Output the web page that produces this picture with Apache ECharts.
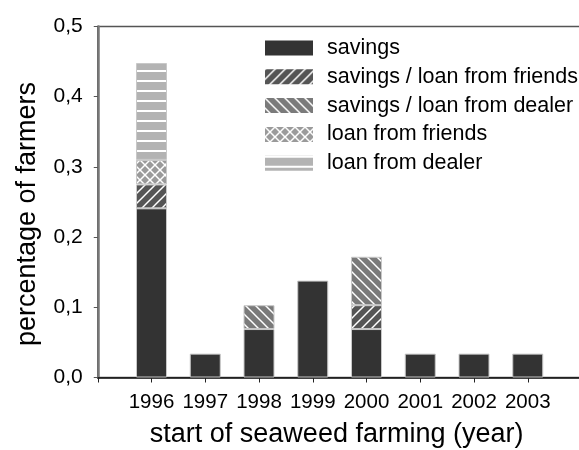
<!DOCTYPE html>
<html>
<head>
<meta charset="utf-8">
<script src="https://cdn.jsdelivr.net/npm/echarts@6/dist/echarts.min.js"></script>
<style>html,body{margin:0;padding:0;background:#fff}#c{width:579px;height:450px}</style>
</head>
<body>
<div id="c"></div>
<script>
var years = ['1996', '1997', '1998', '1999', '2000', '2001', '2002', '2003'];
var savings = [0.241, 0.034, 0.069, 0.138, 0.069, 0.034, 0.034, 0.034];
var savingsFriends = [0.034, null, null, null, 0.034, null, null, null];
var savingsDealer = [null, null, 0.034, null, 0.069, null, null, null];
var loanFriends = [0.035, null, null, null, null, null, null, null];
var loanDealer = [0.138, null, null, null, null, null, null, null];
var yTicks = ['0,0', '0,1', '0,2', '0,3', '0,4', '0,5'];

// axis categories: one empty slot before and after the years (axis padding)
var xCats = [' '].concat(years).concat(['  ']);

function makePattern(bg, kind) {
  var s = 10;
  var c = document.createElement('canvas');
  c.width = s; c.height = s;
  var g = c.getContext('2d');
  g.fillStyle = bg; g.fillRect(0, 0, s, s);
  g.strokeStyle = '#ffffff';
  g.lineWidth = 1.5;
  function seg(x1, y1, x2, y2) { g.beginPath(); g.moveTo(x1, y1); g.lineTo(x2, y2); g.stroke(); }
  if (kind === 'fwd' || kind === 'cross') {
    seg(-2, s + 2, s + 2, -2); seg(-2, 2, 2, -2); seg(s - 2, s + 2, s + 2, s - 2);
  }
  if (kind === 'back' || kind === 'cross') {
    seg(-2, -2, s + 2, s + 2); seg(s - 2, -2, s + 2, 2); seg(-2, s - 2, 2, s + 2);
  }
  if (kind === 'horiz') {
    g.lineWidth = 2;
    seg(0, 1, s, 1);
  }
  return { image: c, repeat: 'repeat' };
}

function toData(arr) {
  return ['-'].concat(arr.map(function (v) { return v === null ? '-' : v; })).concat(['-']);
}

function mk(name, arr, color) {
  return {
    name: name, type: 'bar', stack: 'total', barWidth: 31,
    data: toData(arr),
    itemStyle: { color: color, borderColor: '#c8c8c8', borderWidth: 1 },
    emphasis: { disabled: true }
  };
}

var chart = echarts.init(document.getElementById('c'), null, { renderer: 'canvas' });
chart.setOption({
  animation: false,
  backgroundColor: '#ffffff',
  textStyle: { fontFamily: 'Liberation Sans, Arial, sans-serif' },
  grid: { left: 97.75, top: 26.5, right: -2.5, bottom: 72.5, show: true, borderColor: '#555', borderWidth: 1.5,
          backgroundColor: 'transparent', containLabel: false, outerBoundsMode: 'none' },
  legend: {
    orient: 'vertical', left: 260, top: 32, icon: 'rect',
    itemWidth: 48, itemHeight: 15, itemGap: 6.8,
    itemStyle: { borderWidth: 0 },
    textStyle: { fontSize: 21.5, color: '#000', padding: [0, 0, 0, 9] },
    selectedMode: false
  },
  xAxis: {
    type: 'category', data: xCats, boundaryGap: false,
    axisLine: { lineStyle: { color: '#111', width: 1.5 } },
    axisTick: { show: true, length: 5, interval: 0, lineStyle: { color: '#222' } },
    splitLine: { show: false },
    axisLabel: { fontSize: 20.5, color: '#000', margin: 14, interval: 0 },
    name: 'start of seaweed farming (year)', nameLocation: 'middle', nameGap: 44,
    nameTextStyle: { fontSize: 27, color: '#000', padding: [0, 6, 0, 0] }
  },
  yAxis: {
    type: 'value', min: 0, max: 0.5, interval: 0.1,
    axisLine: { show: true, lineStyle: { color: '#777', width: 2.5 } },
    axisTick: { show: true, length: 4, lineStyle: { color: '#555' } },
    splitLine: { show: false },
    axisLabel: {
      fontSize: 21, color: '#000', margin: 15,
      formatter: function (v) { return yTicks[Math.round(v * 10)]; }
    },
    name: 'percentage of farmers', nameLocation: 'middle', nameGap: 57,
    nameTextStyle: { fontSize: 27, color: '#000', padding: [0, 24, 0, 0] }
  },
  series: [
    mk('savings', savings, '#333333'),
    mk('savings / loan from friends', savingsFriends, makePattern('#555555', 'fwd')),
    mk('savings / loan from dealer', savingsDealer, makePattern('#7a7a7a', 'back')),
    mk('loan from friends', loanFriends, makePattern('#9a9a9a', 'cross')),
    mk('loan from dealer', loanDealer, makePattern('#b3b3b3', 'horiz'))
  ]
});
</script>
</body>
</html>
